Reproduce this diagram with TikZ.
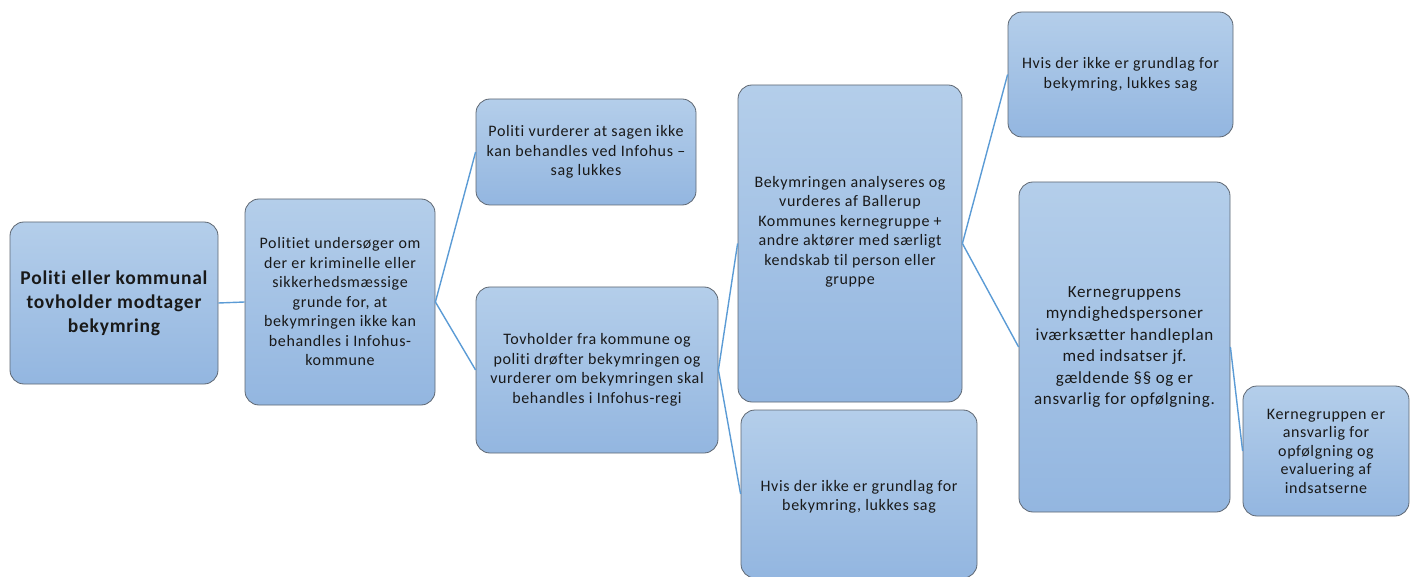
\documentclass[tikz,border=0pt]{standalone}
\usepackage{fontspec}
\setmainfont{Carlito}[LetterSpace=4, Ligatures=NoCommon]
\definecolor{boxtop}{HTML}{B4CEEA}
\definecolor{boxbot}{HTML}{93B6E0}
\definecolor{boxline}{HTML}{5E6772}
\definecolor{conn}{HTML}{5B9BD5}
\tikzset{
  fbox/.style={rectangle, rounded corners=14pt, draw=boxline, line width=0.8pt,
    top color=boxtop, bottom color=boxbot, align=center, inner sep=0pt,
    font=\fontsize{16}{19.5}\selectfont, text=black!90},
  ftext/.style={align=center, inner sep=0pt, font=\fontsize{16}{19.5}\selectfont, text=black!90},
  conline/.style={draw=conn, line width=1.4pt},
}
\begin{document}
\begin{tikzpicture}[x=1pt,y=-1pt]
\useasboundingbox (0,0) rectangle (1413,577);
\begin{scope}
\clip (0,0) rectangle (1413,577);
\node[fbox, minimum width=208pt, minimum height=162pt, font=\fontsize{19.5}{24}\selectfont\bfseries] (a) at (114,303)
  {Politi eller kommunal\\tovholder modtager\\bekymring};
\node[fbox, minimum width=190pt, minimum height=206pt] (b) at (340,302)
  {Politiet undersøger om\\der er kriminelle eller\\sikkerhedsmæssige\\grunde for, at\\bekymringen ikke kan\\behandles i Infohus-\\kommune};
\node[fbox, minimum width=220pt, minimum height=106pt] (c) at (586,152)
  {Politi vurderer at sagen ikke\\kan behandles ved Infohus –\\sag lukkes};
\node[fbox, minimum width=242pt, minimum height=166pt] (d) at (597,370)
  {Tovholder fra kommune og\\politi drøfter bekymringen og\\vurderer om bekymringen skal\\behandles i Infohus-regi};
\node[fbox, minimum width=224pt, minimum height=317pt] (e) at (850,243.5) {};
\node[ftext] (etext) at (850,232)
  {Bekymringen analyseres og\\vurderes af Ballerup\\Kommunes kernegruppe +\\andre aktører med særligt\\kendskab til person eller\\gruppe};
\node[fbox, minimum width=236pt, minimum height=168pt] (f) at (859,494) {};
\node[ftext] (ftext) at (859,497)
  {Hvis der ikke er grundlag for\\bekymring, lukkes sag};
\node[fbox, minimum width=225pt, minimum height=125pt] (g) at (1120.5,74.5)
  {Hvis der ikke er grundlag for\\bekymring, lukkes sag};
\node[fbox, minimum width=211pt, minimum height=330pt, font=\fontsize{17}{21.5}\selectfont] (h) at (1124.5,347)
  {Kernegruppens\\myndighedspersoner\\iværksætter handleplan\\med indsatser jf.\\gældende §§ og er\\ansvarlig for opfølgning.};
\node[fbox, minimum width=166pt, minimum height=130pt, font=\fontsize{16}{18.5}\selectfont] (i) at (1326,451)
  {Kernegruppen er\\ansvarlig for\\opfølgning og\\evaluering af\\indsatserne};
\draw[conline] (a.east) -- (b.west);
\draw[conline] (b.east) -- (c.west);
\draw[conline] (b.east) -- (d.west);
\draw[conline] (d.east) -- (e.west);
\draw[conline] (d.east) -- (f.west);
\draw[conline] (e.east) -- (g.west);
\draw[conline] (e.east) -- (h.west);
\draw[conline] (h.east) -- (i.west);
\end{scope}
\end{tikzpicture}
\end{document}
